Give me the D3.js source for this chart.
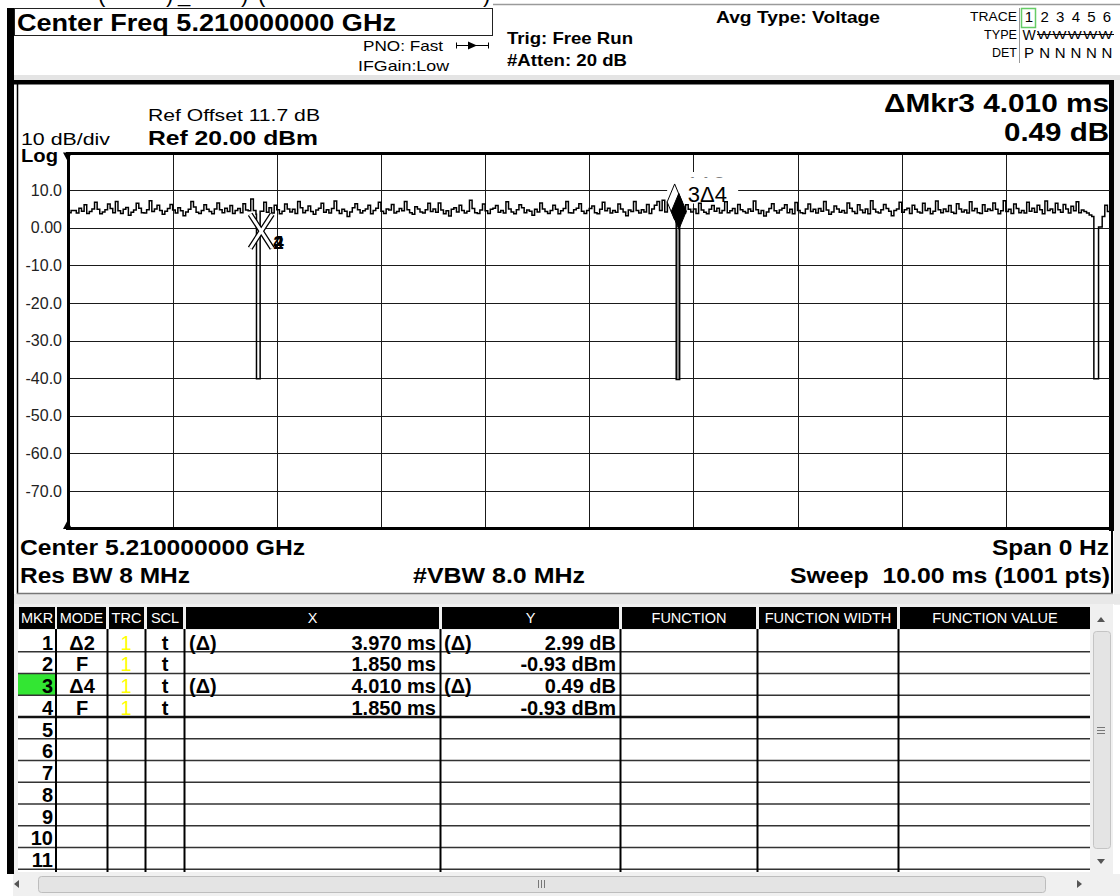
<!DOCTYPE html>
<html><head><meta charset="utf-8">
<script src="https://cdn.jsdelivr.net/npm/d3@7"></script>
<style>
html,body{margin:0;padding:0;background:#fff;}
svg{display:block;font-family:"Liberation Sans",Arial,sans-serif;}
</style></head><body>
<svg id="c" width="1120" height="896"></svg>
<script>
// ---------------- DATA ----------------
const yTickValues = [10, 0, -10, -20, -30, -40, -50, -60, -70];
const yTickLabels = ["10.0", "0.00", "-10.0", "-20.0", "-30.0", "-40.0", "-50.0", "-60.0", "-70.0"];
const levelRange = [-80, 20];          // dBm, bottom .. ref level
const timeRange = [0, 10];             // ms sweep
const timeDivisions = [1, 2, 3, 4, 5, 6, 7, 8, 9];
const noiseStep = 0.025;               // ms between noise readings
const noiseLevels = [
4.0,4.6,4.6,3.9,5.2,4.4,6.1,3.8,4.3,5.0,6.8,4.9,3.7,4.2,4.8,6.3,5.1,4.0,7.0,4.5,
3.8,4.9,5.4,3.3,4.1,4.7,6.5,5.2,4.0,3.9,4.8,7.2,4.3,5.0,6.0,4.6,3.6,4.4,5.1,6.2,
4.7,3.9,5.3,4.5,3.2,4.2,4.9,7.0,5.5,4.1,3.8,4.6,6.1,4.9,4.3,3.7,5.0,6.6,4.8,4.0,
5.2,4.3,5.9,3.8,4.6,5.1,4.0,6.4,4.7,4.5,7.6,4.6,3.6,-0.9,4.4,6.8,4.1,5.3,3.9,6.0,
4.8,3.7,4.4,6.3,5.0,4.2,4.9,3.8,7.0,5.3,4.0,4.6,5.8,4.3,3.6,4.7,5.2,6.5,4.1,4.8,
3.9,5.1,7.1,4.6,3.8,4.9,4.4,3.0,4.2,5.3,6.4,4.8,3.9,4.5,5.0,6.0,3.7,4.6,5.2,6.8,
4.4,3.8,5.0,4.7,6.2,3.9,4.3,5.1,4.5,7.0,4.8,4.0,3.6,5.6,5.0,4.2,3.9,4.8,6.5,4.3,
5.0,4.1,6.6,4.7,3.7,4.5,3.1,4.9,5.3,4.2,6.0,4.6,3.9,4.4,7.3,5.1,4.0,3.8,4.7,6.3,
4.5,3.8,4.9,5.2,5.9,4.1,4.6,3.9,6.9,5.0,4.2,3.7,4.8,6.1,5.3,4.0,4.7,4.4,3.3,4.9,
4.2,6.6,5.0,4.3,3.8,4.6,6.0,4.9,3.7,4.5,5.1,7.0,4.0,3.9,4.8,5.2,6.4,4.4,3.8,4.6,
5.1,5.8,4.0,3.7,4.9,6.8,4.5,5.2,3.9,4.6,4.1,6.3,5.0,4.2,3.2,4.7,4.3,7.0,4.6,3.9,
4.8,4.2,6.2,3.8,5.0,6.0,7.0,4.6,7.3,4.2,6.8,7.5,5.1,6.3,-0.4,4.4,3.9,6.1,4.9,4.2,
5.0,3.8,6.5,4.7,4.1,3.7,4.9,5.9,4.4,5.2,3.9,4.6,6.9,4.0,4.5,5.1,3.8,6.2,4.8,4.3,
3.9,5.0,4.4,7.1,4.8,3.8,4.6,3.1,4.2,5.1,6.4,4.5,3.9,4.7,5.2,6.1,4.0,4.9,3.7,6.7,
4.6,4.0,3.8,5.0,6.3,4.3,4.9,3.9,5.1,4.4,7.0,4.7,3.6,4.2,5.8,5.0,4.1,4.6,3.9,6.6,
5.2,4.3,3.8,6.1,4.7,4.0,5.0,3.7,7.2,4.9,4.2,3.9,4.8,6.2,5.1,4.4,3.2,4.6,5.0,6.8,
4.1,4.8,5.2,3.8,6.0,4.9,4.2,3.9,6.5,4.6,5.1,3.7,4.4,7.1,4.8,4.0,5.0,4.3,5.9,4.1,
3.8,6.4,5.0,4.2,4.7,3.9,6.9,4.5,5.1,4.0,3.8,6.1,4.4,5.0,4.6,6.6,4.9,3.7,4.5,7.2,
4.3,4.9,3.8,6.3,5.1,4.0,4.6,3.9,6.8,4.4,5.2,4.1,6.0,4.8,3.7,7.1,4.6,5.0,4.0,6.5,
4.8,4.1,6.2,5.0,3.9,5.7,4.5,6.9,4.0,4.7,4.3,3.9,3.4,3.0,-1.0,-1.0,0.2,3.0,6.0,4.3,
4.4];
const dipStart = [1.805, 5.835, 9.845];   // ms
const dipEnd   = [1.840, 5.868, 9.890];   // ms
const dipLevel = [-40.2, -40.4, -40.2];   // dBm

const markerIds     = ["1", "2", "3", "4"];
const markerModes   = ["Δ2", "F", "Δ4", "F"];
const markerTraces  = ["1", "1", "1", "1"];
const markerScales  = ["t", "t", "t", "t"];
const markerXPrefix = ["(Δ)", "", "(Δ)", ""];
const markerXValues = [3.970, 1.850, 4.010, 1.850];      // ms
const markerXLabels = ["3.970 ms", "1.850 ms", "4.010 ms", "1.850 ms"];
const markerYPrefix = ["(Δ)", "", "(Δ)", ""];
const markerYValues = [2.99, -0.93, 0.49, -0.93];        // dB / dBm
const markerYLabels = ["2.99 dB", "-0.93 dBm", "0.49 dB", "-0.93 dBm"];
const activeMarker = 3;
const tableColumns = ["MKR", "MODE", "TRC", "SCL", "X", "Y", "FUNCTION", "FUNCTION WIDTH", "FUNCTION VALUE"];
const tableRowIds = ["1","2","3","4","5","6","7","8","9","10","11"];
const traceIds  = ["1", "2", "3", "4", "5", "6"];
const traceTypes = ["W", "W", "W", "W", "W", "W"];
const traceDets = ["P", "N", "N", "N", "N", "N"];

// ---------------- DRAW ----------------
const W = 1120, H = 896;
const svg = d3.select("#c");
const FONT = "'Liberation Sans', Arial, sans-serif";

function T(s, x, y, o = {}) {
  const t = svg.append("text").attr("x", x).attr("y", y).text(s)
    .attr("font-size", o.size || 16).attr("font-weight", o.bold ? "bold" : "normal")
    .attr("fill", o.fill || "#000").attr("text-anchor", o.anchor || "start")
    .attr("font-family", FONT);
  if (o.len) t.attr("textLength", o.len).attr("lengthAdjust", "spacingAndGlyphs");
  if (o.pre) t.style("white-space", "pre");
  return t;
}
function R(x, y, w, h, fill, stroke, sw) {
  return svg.append("rect").attr("x", x).attr("y", y).attr("width", w).attr("height", h)
    .attr("fill", fill || "none").attr("stroke", stroke || "none").attr("stroke-width", sw || 1);
}
function L(x1, y1, x2, y2, c, w) {
  return svg.append("line").attr("x1", x1).attr("y1", y1).attr("x2", x2).attr("y2", y2)
    .attr("stroke", c || "#000").attr("stroke-width", w || 1);
}

// background
R(0, 0, W, H, "#fff");
R(13, 75, W - 13, 6, "#e4e4e4");
R(1114, 80, 6, 525, "#eeeeee");
R(13, 594, W - 13, 10, "#e8e8e8");

// top clipped fragments (bottoms of a title line above the screen)
[["(", 98], [")", 166], ["_", 178], [")", 241], ["(", 258], [")", 483]].forEach(d => T(d[0], d[1], 1.5, {size: 22}));
L(493, 4.5, W, 4.5, "#9a9a9a", 1.5);

// left black bar
R(7, 8, 7, 866, "#000");

// ---- header ----
R(14.5, 8.5, 478, 27, "#fff", "#222", 1);
T("Center Freq 5.210000000 GHz", 17, 31, {size: 24, bold: true, len: 379});
T("PNO: Fast", 363, 51, {size: 15, len: 80});
T("IFGain:Low", 358, 71, {size: 15, len: 91});
L(456, 45.5, 489, 45.5, "#000", 1);
L(456.5, 42.5, 456.5, 48.5, "#000", 1);
L(488.5, 42.5, 488.5, 48.5, "#000", 1);
svg.append("path").attr("d", "M468,41.5 L477,45.5 L468,49.5 Z").attr("fill", "#000");
T("Trig: Free Run", 507, 44, {size: 17, bold: true, len: 126});
T("#Atten: 20 dB", 507, 66, {size: 17, bold: true, len: 120});
T("Avg Type: Voltage", 716, 23, {size: 17, bold: true, len: 164});
T("TRACE", 1017, 21, {size: 13, anchor: "end", len: 47});
T("TYPE", 1017, 39, {size: 13, anchor: "end", len: 33});
T("DET", 1017, 57, {size: 13, anchor: "end", len: 25});
L(1019.5, 8, 1019.5, 63, "#999", 1);
R(1021.5, 8.5, 14, 19, "none", "#66cc66", 1.5);
traceIds.forEach((d, i) => T(d, 1029 + i * 15.6, 22, {size: 15, anchor: "middle"}));
traceTypes.forEach((d, i) => i === 0 ? T(d, 1029, 40, {size: 14, anchor: "middle"})
  : T(d, 1044 + (i - 1) * 15.4, 39, {size: 11, anchor: "middle", len: 14}));
L(1037, 34.5, 1114, 34.5, "#000", 1);
traceDets.forEach((d, i) => T(d, 1029 + i * 15.6, 58, {size: 15, anchor: "middle"}));

// ---- main panel ----
R(14, 80, 1099, 514, "#fff");
R(7, 80, 1107, 4.5, "#000");
L(17.5, 84, 17.5, 594, "#000", 1.5);
R(1109, 80, 5, 451, "#000");
L(1112, 530, 1112, 594, "#000", 2);
L(17, 593.5, 1113, 593.5, "#777", 1.5);

T("Ref Offset 11.7 dB", 148, 121, {size: 17, len: 172});
T("Ref 20.00 dBm", 148, 145, {size: 21, bold: true, len: 170});
T("10 dB/div", 21, 145, {size: 17, len: 89});
T("Log", 21, 162, {size: 18, bold: true, len: 37});
T("ΔMkr3 4.010 ms", 1109, 112, {size: 25, bold: true, anchor: "end", len: 225});
T("0.49 dB", 1109, 141, {size: 25, bold: true, anchor: "end", len: 105});

// scales
const x = d3.scaleLinear().domain(timeRange).range([68.5, 1110]);
const y = d3.scaleLinear().domain(levelRange).range([528.5, 152.5]);

// grid
svg.append("g").selectAll("line").data(yTickValues).join("line")
  .attr("x1", x(timeRange[0])).attr("x2", x(timeRange[1]))
  .attr("y1", d => Math.round(y(d)) + 0.5).attr("y2", d => Math.round(y(d)) + 0.5)
  .attr("stroke", "#1a1a1a").attr("stroke-width", 1);
svg.append("g").selectAll("line").data(timeDivisions).join("line")
  .attr("x1", d => Math.round(x(d)) + 0.5).attr("x2", d => Math.round(x(d)) + 0.5)
  .attr("y1", y(levelRange[1])).attr("y2", y(levelRange[0]))
  .attr("stroke", "#1a1a1a").attr("stroke-width", 1);

// y axis labels
const yAxis = d3.axisLeft(y).tickValues(yTickValues)
  .tickFormat((d, i) => yTickLabels[i]).tickSize(0).tickPadding(6);
svg.append("g").attr("transform", "translate(68,0)").call(yAxis)
  .call(g => g.select(".domain").remove())
  .attr("font-family", FONT).attr("font-size", 16)
  .selectAll("text").attr("fill", "#222");

// marker positions
const markers = markerIds.map((id, i) => ({id, mode: markerModes[i]}));
markers.forEach((m, i) => {
  if (m.mode === "F") { m.t = markerXValues[i]; m.level = markerYValues[i]; }
});
markers.forEach((m, i) => {
  if (m.mode.startsWith("Δ")) {
    const ref = markers[+m.mode.slice(1) - 1];
    m.t = ref.t + markerXValues[i]; m.level = ref.level + markerYValues[i];
  }
});

// marker label boxes (behind trace)
const lab1X = x(markers[0].t) + 11.5, lab3X = x(markers[2].t) + 9;
R(lab1X - 19, 172, 71, 20, "#fff");
T(markers[0].id + markers[0].mode, lab1X, 192, {size: 22});
R(lab3X - 7, 177.5, 57, 26, "#fff");
T(markers[2].id + markers[2].mode, lab3X, 201.5, {size: 22});

// gray fill of active marker's dip
const dm = (dipStart[1] + dipEnd[1]) / 2;
L(x(dm), y(markers[2].level), x(dm), y(dipLevel[1]), "#8c8c8c", 2.6);

// trace (peak-detector style steps)
const kept = [];
noiseLevels.forEach((v, i) => {
  const t = +(i * noiseStep).toFixed(4);
  const inDip = dipStart.some((s, k) => t >= s && t <= dipEnd[k]);
  if (!inDip) kept.push({t, v});
});
const pts = kept.slice();
dipStart.forEach((s, k) => {
  const next = kept.find(p => p.t > dipEnd[k]);
  pts.push({t: s, v: dipLevel[k]});
  pts.push({t: dipEnd[k], v: next.v});
});
pts.sort((a, b) => a.t - b.t);
svg.append("path").datum(pts)
  .attr("d", d3.line().x(d => x(d.t)).y(d => y(d.v)).curve(d3.curveStepAfter))
  .attr("fill", "none").attr("stroke", "#000").attr("stroke-width", 1.5);

// fixed markers: X symbol
const fm = markers[1];
const fx = x(fm.t), fy = y(fm.level);
const xPath = `M${fx - 11},${fy - 17} L${fx + 11},${fy + 17} M${fx + 11},${fy - 17} L${fx - 11},${fy + 17}`;
svg.append("path").attr("d", xPath).attr("stroke", "#000").attr("stroke-width", 5.5).attr("fill", "none");
svg.append("path").attr("d", xPath).attr("stroke", "#fff").attr("stroke-width", 3).attr("fill", "none");
T(markers[3].id, fx + 12, fy + 18, {size: 19, bold: true});
T(markers[1].id, fx + 12, fy + 18, {size: 19, bold: true});

// delta markers: diamonds, tip at the marker point
function diamond(m, fill) {
  const cx = x(m.t), cy = y(m.level);
  svg.append("path").attr("d", `M${cx},${cy} L${cx + 7.5},${cy - 18} L${cx},${cy - 36} L${cx - 7.5},${cy - 18} Z`)
    .attr("fill", fill).attr("stroke", "#000").attr("stroke-width", 1);
}
diamond(markers[0], "#fff");
diamond(markers[2], "#000");

// plot frame
L(66, 153.5, 1112, 153.5, "#000", 3);
L(68.5, 152, 68.5, 530, "#000", 3);
L(66, 528.5, 1112, 528.5, "#000", 3);
svg.append("path").attr("d", "M63,152.5 L72,152.5 L67.5,161 Z").attr("fill", "#000");
svg.append("path").attr("d", "M63,529 L72,529 L67.5,520.5 Z").attr("fill", "#000");

// bottom annotations
T("Center 5.210000000 GHz", 20, 555, {size: 22, bold: true, len: 285});
T("Res BW 8 MHz", 20, 583, {size: 22, bold: true, len: 170});
T("#VBW 8.0 MHz", 413, 583, {size: 22, bold: true, len: 172});
T("Span 0 Hz", 1109, 555, {size: 22, bold: true, anchor: "end", len: 117});
T("Sweep  10.00 ms (1001 pts)", 1110, 583, {size: 22, bold: true, anchor: "end", len: 320, pre: true});

// ---- marker table ----
R(14, 604, 1078, 270, "#f0f0f0");
R(18, 630, 1072, 242, "#fff");
const colEdges = [[19, 55], [57, 106], [109, 144], [147, 183], [186, 439], [442, 619], [622, 756], [759, 897], [900, 1090]];
const hdr = svg.append("g");
hdr.selectAll("rect").data(tableColumns).join("rect")
  .attr("x", (d, i) => colEdges[i][0]).attr("y", 607).attr("width", (d, i) => colEdges[i][1] - colEdges[i][0])
  .attr("height", 22).attr("fill", "#000");
hdr.selectAll("text").data(tableColumns).join("text")
  .attr("x", (d, i) => (colEdges[i][0] + colEdges[i][1]) / 2).attr("y", 623)
  .attr("text-anchor", "middle").attr("fill", "#fff").attr("font-size", 14.5).attr("font-family", FONT)
  .text(d => d);

const rowTop = 630, rowH = 21.75;
R(18, rowTop + (activeMarker - 1) * rowH, 38, rowH, "#33e633");
tableRowIds.forEach((r, k) => {
  const yy = rowTop + (k + 1) * rowH;
  L(18, yy, 1090, yy, k === 3 ? "#111" : "#333", k === 3 ? 2.5 : 1.5);
});
[56, 107.5, 145.5, 184.5, 440.5, 620.5, 757.5, 898.5].forEach(cx => L(cx, 629, cx, 872, "#000", 2));
tableRowIds.forEach((r, k) => T(r, 53, rowTop + k * rowH + 19.5, {size: 20, bold: true, anchor: "end"}));
markerIds.forEach((id, k) => {
  const by = rowTop + k * rowH + 19.5;
  T(markerModes[k], 82, by, {size: 20, bold: true, anchor: "middle"});
  T(markerTraces[k], 126, by, {size: 20, anchor: "middle", fill: "#ffff00"});
  T(markerScales[k], 165, by, {size: 20, bold: true, anchor: "middle"});
  if (markerXPrefix[k]) T(markerXPrefix[k], 189, by, {size: 20, bold: true});
  T(markerXLabels[k], 436, by, {size: 20, bold: true, anchor: "end"});
  if (markerYPrefix[k]) T(markerYPrefix[k], 444, by, {size: 20, bold: true});
  T(markerYLabels[k], 616, by, {size: 20, bold: true, anchor: "end"});
});

// vertical scrollbar
R(1091, 604, 22, 270, "#f0f0f0");
R(1093.5, 631.5, 17, 217, "#e4e4e4", "#c4c4c4", 1).attr("rx", 3);
svg.append("path").attr("d", "M1097,622 L1105,622 L1101,617 Z").attr("fill", "#555");
svg.append("path").attr("d", "M1097,859 L1105,859 L1101,864 Z").attr("fill", "#555");
[727, 730, 733].forEach(yy => L(1097, yy + 0.5, 1105, yy + 0.5, "#777", 1));

// horizontal scrollbar
R(13, 874, 1079, 22, "#f0f0f0");
R(38.5, 876.5, 1007, 16, "#e4e4e4", "#bdbdbd", 1).attr("rx", 3);
svg.append("path").attr("d", "M19,880 L19,888 L14,884 Z").attr("fill", "#555");
svg.append("path").attr("d", "M1077,880 L1077,888 L1082,884 Z").attr("fill", "#555");
[538, 541, 544].forEach(xx => L(xx + 0.5, 880, xx + 0.5, 888, "#777", 1));
R(1092, 874, 28, 22, "#f0f0f0");
</script>
</body></html>
